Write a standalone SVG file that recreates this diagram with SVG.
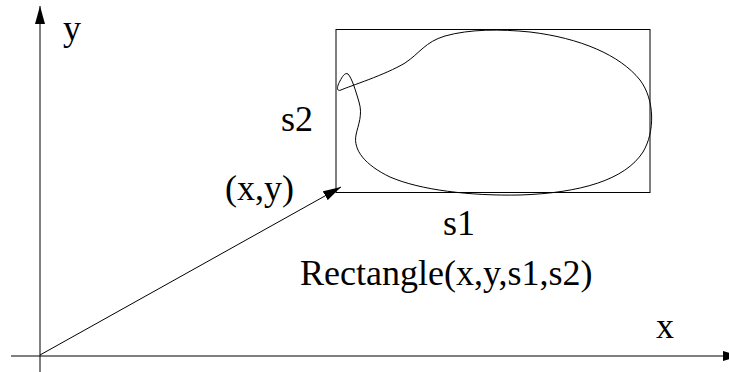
<svg xmlns="http://www.w3.org/2000/svg" width="729" height="372" viewBox="0 0 729 372">
<style>
  .ln { stroke: #000; stroke-width: 1; fill: none; }
  .lbl { font-family: "Liberation Serif", "Times New Roman", serif; font-size: 36px; fill: #000; }
</style>
<defs>
  <marker id="ah" viewBox="0 0 18 10" refX="18" refY="5" markerWidth="18" markerHeight="10" markerUnits="userSpaceOnUse" orient="auto">
    <path d="M0,0 L18,5 L0,10 Z" fill="#000"/>
  </marker>
</defs>
<rect width="729" height="372" fill="#fff"/>
<g id="connectors">
  <line id="y-axis" class="ln" x1="40" y1="372" x2="40" y2="6" marker-end="url(#ah)"/>
  <line id="x-axis" class="ln" x1="11" y1="356" x2="741" y2="356" marker-end="url(#ah)"/>
  <line id="vector" class="ln" x1="40" y1="355" x2="341" y2="187" marker-end="url(#ah)"/>
</g>
<g id="rectangle">
  <rect class="ln" x="336" y="29.5" width="314" height="163"/>
</g>
<g id="blob">
  <path class="ln" d="M 348,74 C 352,78 356,92 359,102 C 363,115 358,125 356,135 C 353,150 365,165 390,177 C 420,190 470,196 520,195 C 580,193 625,180 643,152 C 655,132 655,100 640,80 C 620,55 580,38 530,32 C 500,29 470,29 445,36 C 425,42 420,53 405,63 C 385,75 350,86 341,90 C 336,92 337,86 340,81 C 342,77 345,72 348,74 Z"/>
</g>
<g id="labels">
  <text class="lbl" x="63" y="40">y</text>
  <text class="lbl" x="225" y="200">(x,y)</text>
  <text class="lbl" x="281" y="131">s2</text>
  <text class="lbl" x="443" y="235">s1</text>
  <text class="lbl" x="300" y="285">Rectangle(x,y,s1,s2)</text>
  <text class="lbl" x="656" y="338">x</text>
</g>
</svg>
